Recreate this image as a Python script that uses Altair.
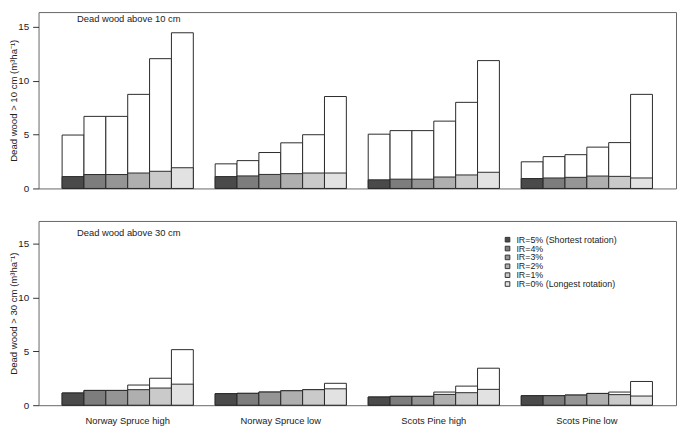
import altair as alt
import pandas as pd

groups = ["Norway Spruce high", "Norway Spruce low", "Scots Pine high", "Scots Pine low"]
ir_labels = ["IR=5% (Shortest rotation)", "IR=4%", "IR=3%", "IR=2%", "IR=1%",
             "IR=0% (Longest rotation)"]
ir_colors = ["#4a4a4a", "#7d7d7d", "#959595", "#afafaf", "#cacaca", "#e2e2e2"]

panel_titles = ["Dead wood above 10 cm", "Dead wood above 30 cm"]
y_titles = ["Dead wood > 10 cm (m\u00b3ha\u207b\u00b9)", "Dead wood > 30 cm (m\u00b3ha\u207b\u00b9)"]
y_ticks = [0, 5, 10, 15]

# Dead wood above 10 cm: total height (white) and lower shaded part, per group x IR
top_total = [
    [4.95, 6.68, 6.68, 8.72, 12.03, 14.43],
    [2.28, 2.58, 3.33, 4.23, 4.98, 8.52],
    [5.03, 5.36, 5.36, 6.24, 7.98, 11.85],
    [2.47, 2.95, 3.13, 3.83, 4.25, 8.72],
]
top_part = [
    [1.1, 1.29, 1.29, 1.43, 1.59, 1.92],
    [1.1, 1.16, 1.3, 1.37, 1.43, 1.43],
    [0.8, 0.86, 0.86, 1.06, 1.25, 1.5],
    [0.92, 0.97, 1.03, 1.15, 1.12, 0.97],
]
# Dead wood above 30 cm
bot_total = [
    [1.13, 1.37, 1.37, 1.87, 2.5, 5.15],
    [1.07, 1.1, 1.22, 1.34, 1.44, 2.03],
    [0.76, 0.82, 0.82, 1.22, 1.77, 3.43],
    [0.88, 0.88, 0.94, 1.09, 1.22, 2.2],
]
bot_part = [
    [1.13, 1.37, 1.37, 1.44, 1.59, 1.95],
    [1.07, 1.1, 1.22, 1.34, 1.44, 1.52],
    [0.76, 0.82, 0.82, 1.0, 1.16, 1.47],
    [0.88, 0.88, 0.94, 1.09, 0.98, 0.85],
]

FONT = "Liberation Sans"
PX_PER_UNIT = 10.95
WIDTH = 647

color_scale = alt.Scale(domain=ir_labels, range=ir_colors)


def make_df(totals, parts):
    rows = []
    for g, tt, pp in zip(groups, totals, parts):
        for ir, t, p in zip(ir_labels, tt, pp):
            rows.append({"group": g, "ir": ir, "total": t, "part": p})
    return pd.DataFrame(rows)


def legend_layer():
    ldf = pd.DataFrame({"ir": ir_labels})
    ly = alt.Y("ir:N", sort=ir_labels, axis=None,
               scale=alt.Scale(domain=ir_labels, range=[19, 64], padding=0))
    squares = alt.Chart(ldf).mark_square(size=22, stroke="#333", strokeWidth=1,
                                         opacity=1).encode(
        x=alt.value(476), y=ly,
        color=alt.Color("ir:N", scale=color_scale, legend=None))
    texts = alt.Chart(ldf).mark_text(align="left", baseline="middle", font=FONT,
                                     fontSize=9, color="#222").encode(
        x=alt.value(485), y=ly, text="ir:N")
    return alt.layer(squares, texts)


def panel(df, title, ytitle, height, show_x, show_legend):
    if show_x:
        xaxis = alt.Axis(title=None, ticks=False, domain=False, labelAngle=0,
                         labelFontSize=9.5, labelFont=FONT, labelPadding=11,
                         labelColor="#222")
    else:
        xaxis = None
    x = alt.X("group:N", sort=groups, axis=xaxis,
              scale=alt.Scale(paddingInner=1 / 7, paddingOuter=0.154))
    xo = alt.XOffset("ir:N", sort=ir_labels,
                     scale=alt.Scale(paddingInner=0, paddingOuter=0))
    ymax = height / PX_PER_UNIT
    yscale = alt.Scale(domain=[0, ymax], nice=False)
    yaxis = alt.Axis(title=ytitle, values=y_ticks, tickSize=6, labelPadding=4,
                     labelFontSize=10, labelFont=FONT, labelColor="#222",
                     titleFont=FONT, titleFontSize=9.7, titleFontWeight="normal",
                     titleColor="#222", titleX=-20, grid=False, domain=False,
                     tickColor="#333")

    base = alt.Chart(df)
    white = base.mark_bar(fill="white", stroke="#2a2a2a", strokeWidth=1).encode(
        x=x, xOffset=xo, y=alt.Y("total:Q", scale=yscale, axis=yaxis))
    shaded = base.mark_bar(stroke="#2a2a2a", strokeWidth=1).encode(
        x=x, xOffset=xo, y=alt.Y("part:Q", scale=yscale, axis=yaxis),
        color=alt.Color("ir:N", sort=ir_labels, scale=color_scale, legend=None))
    label = alt.Chart(pd.DataFrame({"t": [title]})).mark_text(
        align="left", baseline="alphabetic", font=FONT, fontSize=9.5, color="#222"
    ).encode(text="t:N", x=alt.value(39), y=alt.value(10 if not show_x else 15))
    bars = alt.layer(white, shaded, label)
    if show_legend:
        out = alt.layer(bars, legend_layer()).resolve_scale(y="independent")
    else:
        out = bars
    return out.properties(width=WIDTH, height=height)


top = panel(make_df(top_total, top_part), panel_titles[0], y_titles[0], 179, False, False)
bottom = panel(make_df(bot_total, bot_part), panel_titles[1], y_titles[1], 187, True, True)

chart = alt.vconcat(top, bottom, spacing=33, bounds="flush").properties(
    padding=0).configure_view(stroke="#666", strokeWidth=1)

chart.save("out.html", embed_options={"renderer": "svg", "actions": False})
